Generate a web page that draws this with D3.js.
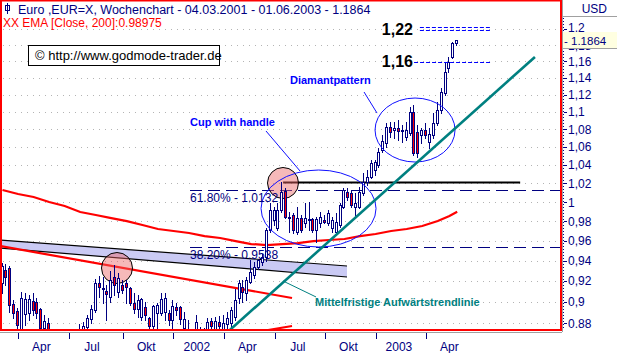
<!DOCTYPE html>
<html>
<head>
<meta charset="utf-8">
<script src="https://cdn.jsdelivr.net/npm/d3@7"></script>
<style>
  body { margin: 0; background: #fff; }
  svg { display: block; font-family: "Liberation Sans", Arial, sans-serif; }
</style>
</head>
<body>
<div class="chart"></div>
<script>
// weekly EUR/USD candles, 04.03.2001 - 01.06.2003 (week index 0..117)

var openVals = [0.918,0.9307,0.9327,0.898,0.891,0.870,0.8885,0.889,0.9007,0.8998,
  0.8932,0.8754,0.880,0.868,0.860,0.863,0.855,0.850,0.852,0.857,
  0.862,0.868,0.8763,0.8838,0.8922,0.918,0.9125,0.9103,0.905,0.924,
  0.9093,0.916,0.918,0.9132,0.8988,0.8932,0.8856,0.8951,0.8847,0.8773,
  0.8894,0.8894,0.8903,0.8894,0.8828,0.8951,0.8951,0.8754,0.868,0.870,
  0.866,0.872,0.866,0.869,0.8819,0.8745,0.881,0.872,0.8791,0.8801,
  0.8856,0.9036,0.9141,0.9084,0.919,0.9258,0.9337,0.9386,0.9436,0.9709,
  0.9812,0.9729,0.9916,1.0117,0.9832,0.9864,0.9688,0.9832,0.9781,0.9812,
  0.9822,0.9709,0.9781,0.9812,0.9781,0.9729,0.9688,0.976,0.9947,1.0106,
  1.0095,0.9947,0.9947,1.0095,1.0213,1.0267,1.034,1.0399,1.0564,1.0643,
  1.0824,1.079,1.0813,1.0779,1.0711,1.0756,1.0997,1.0767,1.0733,1.079,
  1.0654,1.0733,1.087,1.102,1.122,1.152,1.1655,1.1828];
var highVals = [0.9376,0.9366,0.935,0.9017,0.894,0.9093,0.9084,0.9065,0.9084,0.9036,
  0.894,0.8875,0.8847,0.872,0.866,0.868,0.861,0.858,0.862,0.868,
  0.8791,0.881,0.8875,0.897,0.922,0.925,0.924,0.916,0.930,0.9356,
  0.928,0.921,0.921,0.914,0.9084,0.9065,0.9036,0.8998,0.8856,0.897,
  0.8988,0.9084,0.9084,0.8922,0.9017,0.8988,0.896,0.8903,0.8828,0.874,
  0.8875,0.8763,0.875,0.8847,0.8847,0.8856,0.8866,0.8875,0.8903,0.8951,
  0.912,0.921,0.921,0.9238,0.9406,0.9386,0.942,0.947,0.973,0.9989,
  0.9947,0.9989,1.0213,1.0149,0.9895,0.9884,0.9947,0.9864,0.9989,1.0,
  0.9832,0.9843,0.9895,0.9864,0.9916,0.9843,0.9884,0.9989,1.0149,1.0149,
  1.0128,1.0095,1.016,1.031,1.0344,1.0453,1.0453,1.0587,1.0733,1.087,
  1.0882,1.0882,1.0905,1.0847,1.0882,1.1055,1.1079,1.0847,1.0813,1.087,
  1.0813,1.0985,1.1114,1.1279,1.1593,1.1655,1.1841,1.1866];
var lowVals = [0.9084,0.9161,0.8903,0.885,0.872,0.866,0.878,0.8828,0.8875,0.8847,
  0.870,0.872,0.862,0.856,0.852,0.851,0.847,0.844,0.846,0.851,
  0.855,0.862,0.872,0.880,0.890,0.9046,0.899,0.8828,0.900,0.9065,
  0.905,0.9084,0.899,0.897,0.889,0.8856,0.8828,0.8828,0.8736,0.872,
  0.870,0.8875,0.8828,0.8782,0.872,0.8875,0.8791,0.870,0.862,0.860,
  0.862,0.859,0.860,0.864,0.870,0.871,0.871,0.868,0.875,0.8773,
  0.8828,0.899,0.8998,0.9017,0.918,0.9229,0.932,0.936,0.940,0.9688,
  0.976,0.9709,0.9895,0.9832,0.9688,0.968,0.967,0.9688,0.9739,0.9709,
  0.9688,0.9586,0.9739,0.9781,0.976,0.9688,0.9658,0.9739,0.9937,1.002,
  0.9947,0.9864,0.9937,1.0074,1.0181,1.0256,1.0289,1.0377,1.0542,1.0598,
  1.0711,1.07,1.0677,1.0654,1.0677,1.0733,1.0509,1.0487,1.0643,1.07,
  1.0587,1.07,1.0847,1.0985,1.1196,1.1472,1.1642,1.1800];
var closeVals = [0.9347,0.9238,0.8970,0.889,0.878,0.9036,0.9026,0.903,0.8922,0.889,
  0.8754,0.8819,0.868,0.860,0.863,0.855,0.850,0.852,0.857,0.862,
  0.871,0.877,0.8847,0.8932,0.918,0.9141,0.9135,0.9074,0.921,0.916,
  0.9229,0.9113,0.9141,0.8988,0.8932,0.9017,0.9026,0.8875,0.8773,0.896,
  0.897,0.9026,0.9036,0.8828,0.896,0.8922,0.8838,0.8838,0.872,0.865,
  0.881,0.866,0.869,0.881,0.8773,0.8819,0.8773,0.8801,0.8847,0.8922,
  0.9017,0.918,0.9093,0.9209,0.9288,0.9337,0.9406,0.9436,0.9709,0.9916,
  0.9916,0.9916,1.0106,0.9843,0.9843,0.9709,0.9832,0.9709,0.9832,0.9822,
  0.9709,0.9822,0.9843,0.9791,0.9884,0.9812,0.9791,0.9968,1.0128,1.0053,
  0.9968,0.9989,1.0106,1.0213,1.0267,1.042,1.043,1.0542,1.0665,1.0824,
  1.0767,1.0813,1.0779,1.079,1.079,1.0997,1.0531,1.0531,1.079,1.0733,
  1.0744,1.087,1.102,1.1232,1.1472,1.1593,1.1828,1.1864];

// EMA 200 read at every 4th week
var emaIdx = [0,4,8,12,16,20,24,28,32,36,40,44,48,52,56,60,64,68,72,76,80,84,88,92,96,100,104,108,112,115,117];
var emaVals = [1.0128,1.0085,1.0053,1.0,0.9958,0.9895,0.9864,0.9832,0.9801,0.9760,0.9719,0.9699,0.9678,0.9647,0.9627,
  0.9596,0.9566,0.9556,0.9566,0.9576,0.9596,0.9607,0.9617,0.9647,0.9668,0.9699,0.9719,0.9750,0.9801,0.9853,0.98975];

var yTicks = [1.2,1.18,1.16,1.14,1.12,1.1,1.08,1.06,1.04,1.02,1,0.98,0.96,0.94,0.92,0.9,0.88];
var yTickLabels = ["1,2","1,18","1,16","1,14","1,12","1,1","1,08","1,06","1,04","1,02","1","0,98","0,96","0,94","0,92","0,9","0.88"];
var xTickIdx = [4,17,31,44,57,70,83,96,109];
var xTickLabels = ["Apr","Jul","Okt","2002","Apr","Jul","Okt","2003","Apr"];

var fibLevels = [1.0132, 0.9538];
var fibLabels = ["61.80% - 1.0132", "38.20% - 0.9538"];

var svgWidth = 617;
var svgHeight = 353;
var plotRight = 561;
var plotBottom = 330;
var navy = "#000080";

var x = d3.scaleLinear().domain([0, 117]).range([2.5, 457.2]);
var y = d3.scaleLog().domain([0.8736, 1.2378]).range([plotBottom, 0]);

var svg = d3.select(".chart").append("svg")
    .attr("width", svgWidth)
    .attr("height", svgHeight);

svg.append("rect").attr("width", svgWidth).attr("height", svgHeight).attr("fill", "#fff");

var defs = svg.append("defs");
defs.append("clipPath").attr("id", "plotclip")
    .append("rect").attr("x", 1).attr("y", 1).attr("width", plotRight - 1).attr("height", plotBottom - 1);

// dotted grid
svg.append("g").selectAll("line").data(yTicks).enter().append("line")
    .attr("x1", 3).attr("x2", plotRight)
    .attr("y1", function(d) { return Math.round(y(d)) + 0.5; })
    .attr("y2", function(d) { return Math.round(y(d)) + 0.5; })
    .attr("stroke", "#b4b4b4").attr("stroke-dasharray", "1,5");

var plot = svg.append("g").attr("clip-path", "url(#plotclip)");

// lavender channel
var bandTop = [[-0.64, 0.9607], [88.65, 0.9347]];
var bandBottom = [[-0.64, 0.9526], [88.65, 0.9239]];
plot.append("path")
    .attr("d", d3.line().x(function(d) { return x(d[0]); }).y(function(d) { return y(d[1]); })(bandTop.concat(bandBottom.slice().reverse())) + "Z")
    .attr("fill", "#cacaf4");
[bandTop, bandBottom].forEach(function(l) {
    plot.append("line")
        .attr("x1", x(l[0][0])).attr("y1", y(l[0][1]))
        .attr("x2", x(l[1][0])).attr("y2", y(l[1][1]))
        .attr("stroke", "#000").attr("stroke-width", 1.2);
});

// fibonacci retracement lines
plot.selectAll(".fib").data(fibLevels).enter().append("line")
    .attr("x1", x(48.25)).attr("x2", plotRight)
    .attr("y1", function(d) { return Math.round(y(d)) + 0.5; })
    .attr("y2", function(d) { return Math.round(y(d)) + 0.5; })
    .attr("stroke", navy).attr("stroke-dasharray", "12,6");
svg.selectAll(".fibtxt").data(fibLabels).enter().append("text")
    .attr("x", 190)
    .attr("y", function(d, i) { return y(fibLevels[i]) + 12; })
    .attr("font-size", 12).attr("fill", navy)
    .text(function(d) { return d; });

// black resistance line
plot.append("line")
    .attr("x1", x(72.2)).attr("x2", x(133.2))
    .attr("y1", y(1.0208)).attr("y2", y(1.0208))
    .attr("stroke", "#000").attr("stroke-width", 2);

// EMA 200
plot.append("path")
    .attr("d", d3.line().x(function(d, i) { return x(emaIdx[i]); }).y(function(d) { return y(d); })(emaVals))
    .attr("fill", "none").attr("stroke", "#ff0000").attr("stroke-width", 2.2);

// red downtrend lines
var redLines = [[[-0.64, 0.9546], [74.5, 0.9036]], [[66.8, 0.8727], [74.5, 0.8773]]];
redLines.forEach(function(l) {
    plot.append("line")
        .attr("x1", x(l[0][0])).attr("y1", y(l[0][1]))
        .attr("x2", x(l[1][0])).attr("y2", y(l[1][1]))
        .attr("stroke", "#ff0000").attr("stroke-width", 2.2);
});

// pink circles
var circles = [[29.46, 0.9327], [72.18, 1.0203]];
plot.selectAll(".circ").data(circles).enter().append("circle")
    .attr("cx", function(d) { return x(d[0]); })
    .attr("cy", function(d) { return y(d[1]); })
    .attr("r", 15.5)
    .attr("fill", "rgba(236,100,100,0.45)").attr("stroke", "#000").attr("stroke-width", 1);

// candles
var idx = d3.range(openVals.length);
var cg = plot.append("g");
cg.selectAll(".wick").data(idx).enter().append("line")
    .attr("x1", function(i) { return Math.round(x(i)) - 0.5; })
    .attr("x2", function(i) { return Math.round(x(i)) - 0.5; })
    .attr("y1", function(i) { return Math.round(y(highVals[i])); })
    .attr("y2", function(i) { return Math.round(y(lowVals[i])) + 1; })
    .attr("stroke", navy).attr("stroke-width", 1);
cg.selectAll(".body").data(idx).enter().append("rect")
    .attr("x", function(i) { return Math.round(x(i)) - 1.5; })
    .attr("width", 2)
    .attr("y", function(i) { return Math.round(y(Math.max(openVals[i], closeVals[i]))) + 0.5; })
    .attr("height", function(i) {
        return Math.max(1, Math.round(y(Math.min(openVals[i], closeVals[i]))) - Math.round(y(Math.max(openVals[i], closeVals[i]))));
    })
    .attr("fill", function(i) { return closeVals[i] < openVals[i] ? "#ff0000" : "#fff"; })
    .attr("stroke", navy).attr("stroke-width", 1);

// blue ellipses
var ellipses = [[81.32, 0.99318, 57.5, 38.5], [106.15, 1.0790, 40, 32]];
plot.selectAll(".ell").data(ellipses).enter().append("ellipse")
    .attr("cx", function(d) { return x(d[0]); })
    .attr("cy", function(d) { return y(d[1]); })
    .attr("rx", function(d) { return d[2]; })
    .attr("ry", function(d) { return d[3]; })
    .attr("fill", "none").attr("stroke", "#1010ff").attr("stroke-width", 1);

// medium term uptrend line
plot.append("line")
    .attr("x1", x(58.5)).attr("y1", y(0.8736))
    .attr("x2", x(137.0)).attr("y2", y(1.1655))
    .attr("stroke", "#008080").attr("stroke-width", 2.6);

// leader lines
var leaders = [
    [[67.8, 1.0779], [76.56, 1.0333], "#1010ff"],
    [[93.03, 1.1232], [96.37, 1.0985], "#1010ff"],
    [[72.18, 0.9200], [80.68, 0.9046], "#008080"]
];
leaders.forEach(function(l) {
    plot.append("line")
        .attr("x1", x(l[0][0])).attr("y1", y(l[0][1]))
        .attr("x2", x(l[1][0])).attr("y2", y(l[1][1]))
        .attr("stroke", l[2]).attr("stroke-width", 1);
});

// price targets
var targetLines = [[107.4, 125.45, 1.2026], [107.4, 125.45, 1.1992], [105.9, 125.45, 1.1597]];
plot.selectAll(".tgt").data(targetLines).enter().append("line")
    .attr("x1", function(d) { return x(d[0]); })
    .attr("x2", function(d) { return x(d[1]); })
    .attr("y1", function(d) { return Math.round(y(d[2])) + 0.5; })
    .attr("y2", function(d) { return Math.round(y(d[2])) + 0.5; })
    .attr("stroke", "#0000ff").attr("stroke-dasharray", "4,2");
svg.append("text").attr("x", 413).attr("y", y(1.2) + 6).attr("text-anchor", "end")
    .attr("font-size", 16).attr("font-weight", "bold").text("1,22");
svg.append("text").attr("x", 413).attr("y", y(1.16) + 6).attr("text-anchor", "end")
    .attr("font-size", 16).attr("font-weight", "bold").text("1,16");

// annotation texts
svg.append("text").attr("x", 190).attr("y", 126).attr("font-size", 11).attr("font-weight", "bold")
    .attr("fill", "#0000ff").text("Cup with handle");
svg.append("text").attr("x", 290).attr("y", 84).attr("font-size", 11).attr("font-weight", "bold")
    .attr("fill", "#0000ff").text("Diamantpattern");
svg.append("text").attr("x", 315).attr("y", 306).attr("font-size", 11).attr("font-weight", "bold")
    .attr("fill", "#008080").text("Mittelfristige Aufwärtstrendlinie");

// watermark box
svg.append("rect").attr("x", 28.5).attr("y", 45.5).attr("width", 191).attr("height", 20)
    .attr("fill", "#fff").attr("stroke", "#000");
svg.append("text").attr("x", 35).attr("y", 60).attr("font-size", 13)
    .text("\u00a9 http://www.godmode-trader.de");

// header texts
svg.append("rect").attr("x", 5.5).attr("y", 5.5).attr("width", 4).attr("height", 5)
    .attr("fill", "none").attr("stroke", navy);
svg.append("line").attr("x1", 7.5).attr("x2", 7.5).attr("y1", 3).attr("y2", 14).attr("stroke", navy);
svg.append("text").attr("x", 18).attr("y", 14).attr("font-size", 12.5).attr("fill", navy)
    .text("Euro ,EUR=X, Wochenchart - 04.03.2001 - 01.06.2003 - 1.1864");
svg.append("text").attr("x", 3).attr("y", 27).attr("font-size", 12).attr("fill", "#ff0000")
    .text("XX EMA [Close, 200]:0.98975");

// plot frame
svg.append("rect").attr("x", 1).attr("y", 0.5).attr("width", plotRight - 1).attr("height", plotBottom - 0.5)
    .attr("fill", "none").attr("stroke", "#ff0000").attr("stroke-width", 2);
svg.append("line").attr("x1", 0).attr("x2", plotRight + 1).attr("y1", 332.5).attr("y2", 332.5).attr("stroke", "#a0a0a0");

// y axis panel
svg.append("line").attr("x1", 562.5).attr("x2", 562.5).attr("y1", 0).attr("y2", plotBottom + 2).attr("stroke", "#a0a0a0");
svg.append("line").attr("x1", 563.5).attr("x2", 563.5).attr("y1", 18).attr("y2", plotBottom)
    .attr("stroke", navy).attr("stroke-dasharray", "1,2");
svg.append("line").attr("x1", 562).attr("x2", svgWidth).attr("y1", 16.5).attr("y2", 16.5).attr("stroke", "#a0a0a0");
svg.append("text").attr("x", 607).attr("y", 13).attr("text-anchor", "end").attr("font-size", 12)
    .attr("fill", navy).text("USD");

var last = closeVals[closeVals.length - 1];
var boxTop = Math.round(y(last)) - 8;

// labels hidden by the last price box are clipped to what stays visible
defs.append("clipPath").attr("id", "axisclip")
    .append("path")
    .attr("d", "M563,17H617V" + boxTop + "H563Z M563," + (boxTop + 17) + "H617V353H563Z");

var yAxis = svg.append("g");
yAxis.selectAll(".yt").data(yTicks).enter().append("line")
    .attr("x1", 564).attr("x2", 567)
    .attr("y1", function(d) { return Math.round(y(d)) + 0.5; })
    .attr("y2", function(d) { return Math.round(y(d)) + 0.5; })
    .attr("stroke", navy);
yAxis.append("g").attr("clip-path", "url(#axisclip)")
    .selectAll(".yl").data(yTicks).enter().append("text")
    .attr("x", 568)
    .attr("y", function(d) { return y(d) + (d === 1.2 ? 3 : 4.5); })
    .attr("font-size", 12).attr("fill", navy)
    .text(function(d, i) { return yTickLabels[i]; });

// last price box
svg.append("rect").attr("x", 563).attr("y", boxTop).attr("width", 54).attr("height", 16)
    .attr("fill", "#ffffe1");
svg.append("line").attr("x1", 563).attr("x2", svgWidth)
    .attr("y1", boxTop + 16.5).attr("y2", boxTop + 16.5).attr("stroke", "#a0a0a0");
svg.append("text").attr("x", 564).attr("y", y(last) + 5).attr("font-size", 11.5).attr("fill", navy)
    .text("- " + last.toFixed(4));

// x axis
var xAxis = svg.append("g");
xAxis.selectAll(".xt").data(xTickIdx).enter().append("line")
    .attr("x1", function(d) { return Math.round(x(d)) + 0.5; })
    .attr("x2", function(d) { return Math.round(x(d)) + 0.5; })
    .attr("y1", 333).attr("y2", 339)
    .attr("stroke", navy);
xAxis.selectAll(".xl").data(xTickIdx).enter().append("text")
    .attr("x", function(d) { return x(d + 6); })
    .attr("y", 351)
    .attr("text-anchor", "middle").attr("font-size", 12).attr("fill", navy)
    .text(function(d, i) { return xTickLabels[i]; });
</script>
</body>
</html>
